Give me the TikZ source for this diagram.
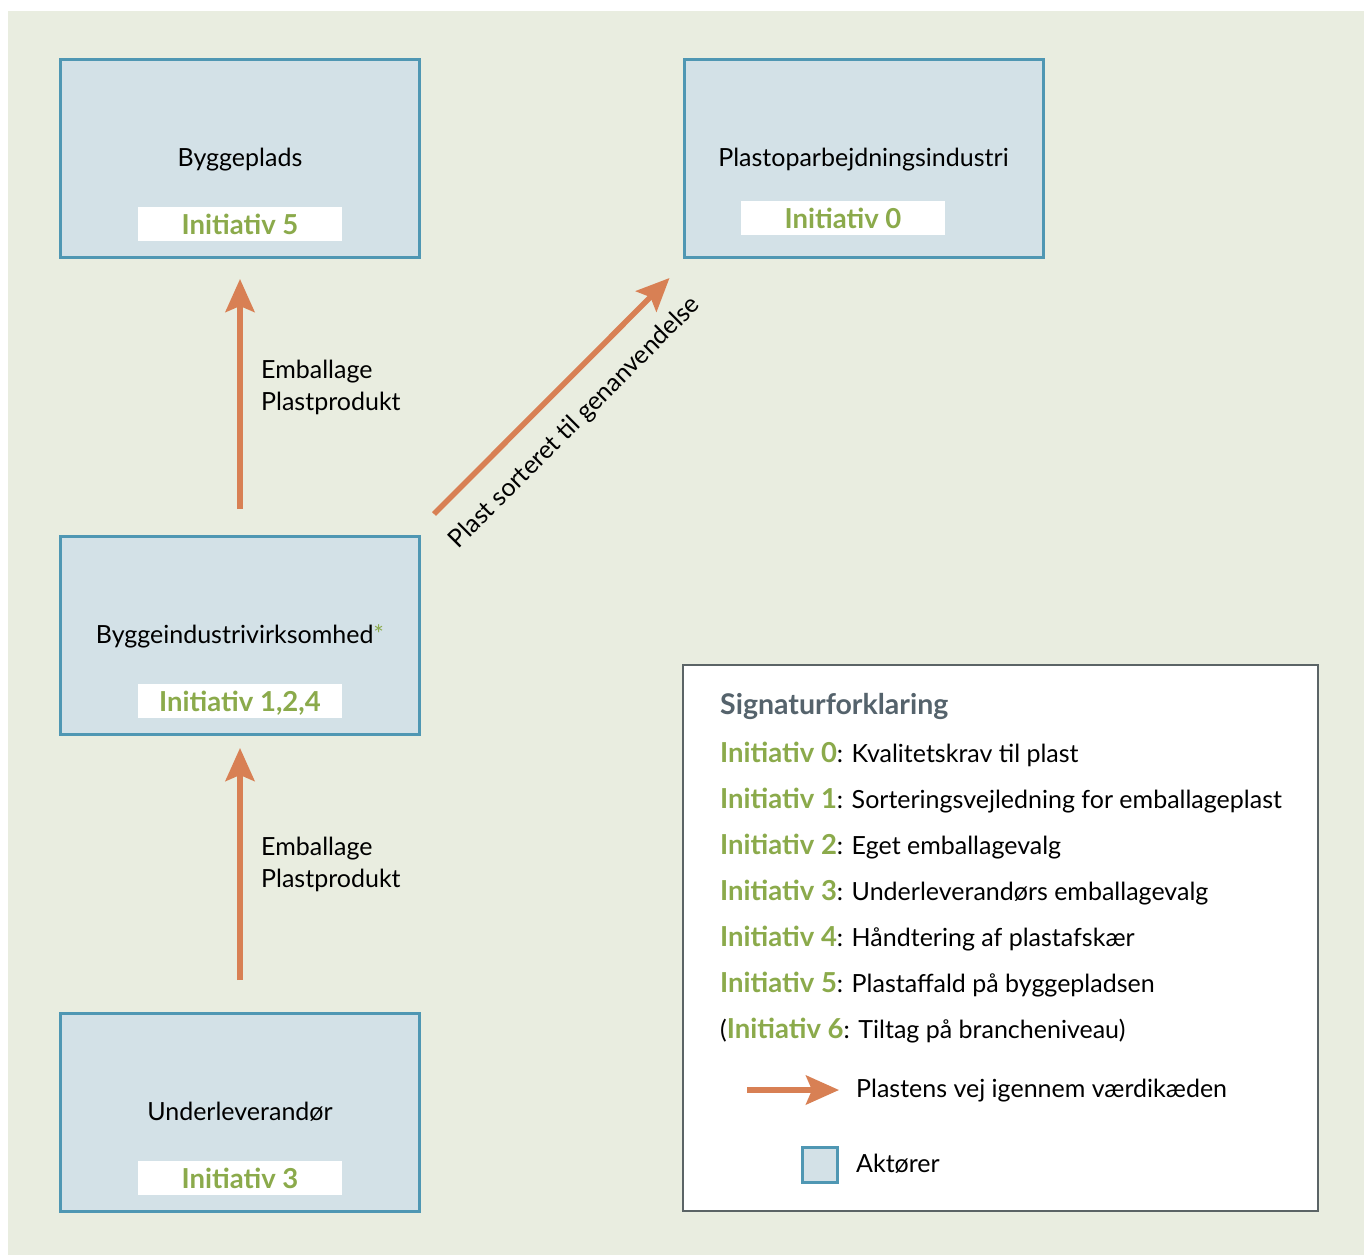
\documentclass[tikz,border=0pt]{standalone}
\usepackage{fontspec}
\setmainfont{Lato}
\usetikzlibrary{arrows.meta,calc}
\definecolor{bg}{HTML}{E9EDE0}
\definecolor{boxfill}{HTML}{D3E1E7}
\definecolor{boxline}{HTML}{4F97B3}
\definecolor{initgreen}{HTML}{8BAA4B}
\definecolor{floworange}{HTML}{D88054}
\definecolor{titlegray}{HTML}{55636C}
\definecolor{legline}{HTML}{5B6466}
\newcommand\regfont{\fontsize{25}{30}\selectfont}
\newcommand\inifont{\fontsize{27.5}{32}\selectfont\bfseries}
\newcommand\ini[1]{{\inifont\textcolor{initgreen}{Initiativ #1}}}
\begin{document}
\begin{tikzpicture}[x=1pt,y=-1pt,
  actor/.style={draw=boxline,fill=boxfill,line width=3pt,minimum width=359pt,minimum height=198pt,inner sep=0pt},
  initlabel/.style={fill=white,minimum width=204pt,minimum height=34pt,inner sep=0pt,text height=20pt,text depth=0pt,font=\inifont,text=initgreen},
  title/.style={anchor=base,font=\regfont,inner sep=0pt},
  flowtext/.style={anchor=base west,font=\regfont,inner sep=0pt},
  legtext/.style={anchor=base west,font=\regfont,inner sep=0pt},
  flow/.style={draw=floworange,line width=5.5pt,-{Stealth[length=33pt,width=29pt,inset=6pt]}},
]
\useasboundingbox (0,0) rectangle (1364,1255);
\fill[bg] (8,11) rectangle (1364,1255);

% actors
\node[actor] (byggeplads) at (240,158.5) {};
\node[actor] (plasto) at (863.5,158.5) {};
\node[actor] (bygge) at (240,635.5) {};
\node[actor] (under) at (240,1112.5) {};

% titles
\node[title] (t1) at (240,166) {Byggeplads};
\node[title] (t2) at (863.5,166) {Plastoparbejdningsindustri};
\node[title] (t3) at (240,643) {Byggeindustrivirksomhed\textcolor{initgreen}{*}};
\node[title] (t4) at (240,1120) {Underleverandør};

% initiative labels
\node[initlabel] (i1) at (240,224) {Initiativ 5};
\node[initlabel] (i2) at (843,218) {Initiativ 0};
\node[initlabel] (i3) at (240,701) {Initiativ 1,2,4};
\node[initlabel] (i4) at (240,1178) {Initiativ 3};

% flows
\draw[flow, shorten <=26pt, shorten >=20pt] (bygge.north) -- (byggeplads.south);
\draw[flow, shorten <=32pt, shorten >=12pt] (under.north) -- (bygge.south);
\coordinate (d1) at ($(bygge.north east)+(13,-21)$);
\coordinate (d2) at ($(plasto.south west)+(-13,19)$);
\draw[flow] (d1) -- (d2);

\node[flowtext] (e1a) at (261,378) {Emballage};
\node[flowtext] (e1b) at (261,410) {Plastprodukt};
\node[flowtext] (e2a) at (261,855) {Emballage};
\node[flowtext] (e2b) at (261,887) {Plastprodukt};
\node[rotate=45,font=\regfont,inner sep=0pt] (diag) at (575,423) {Plast sorteret til genanvendelse};

% legend
\node[draw=legline,fill=white,line width=1.5pt,minimum width=635pt,minimum height=546pt,inner sep=0pt] (legend) at (1000.5,938) {};
\node[anchor=base west,inner sep=0pt,font=\fontsize{28.5}{32}\selectfont\bfseries,text=titlegray] (lt) at (720,714) {Signaturforklaring};
\node[legtext] (l0) at (720,762) {\ini{0}: Kvalitetskrav til plast};
\node[legtext] (l1) at (720,808) {\ini{1}: Sorteringsvejledning for emballageplast};
\node[legtext] (l2) at (720,854) {\ini{2}: Eget emballagevalg};
\node[legtext] (l3) at (720,900) {\ini{3}: Underleverandørs emballagevalg};
\node[legtext] (l4) at (720,946) {\ini{4}: Håndtering af plastafskær};
\node[legtext] (l5) at (720,992) {\ini{5}: Plastaffald på byggepladsen};
\node[legtext] (l6) at (720,1038) {(\ini{6}: Tiltag på brancheniveau)};

\coordinate (la1) at (747,1090);
\coordinate (la2) at (839,1090);
\draw[flow] (la1) -- (la2);
\node[legtext] (lat) at (856,1097) {Plastens vej igennem værdikæden};
\node[draw=boxline,fill=boxfill,line width=3pt,minimum size=35pt,inner sep=0pt] (lsq) at (819.5,1164.5) {};
\node[legtext] (lst) at (856,1172) {Aktører};
\end{tikzpicture}
\end{document}
